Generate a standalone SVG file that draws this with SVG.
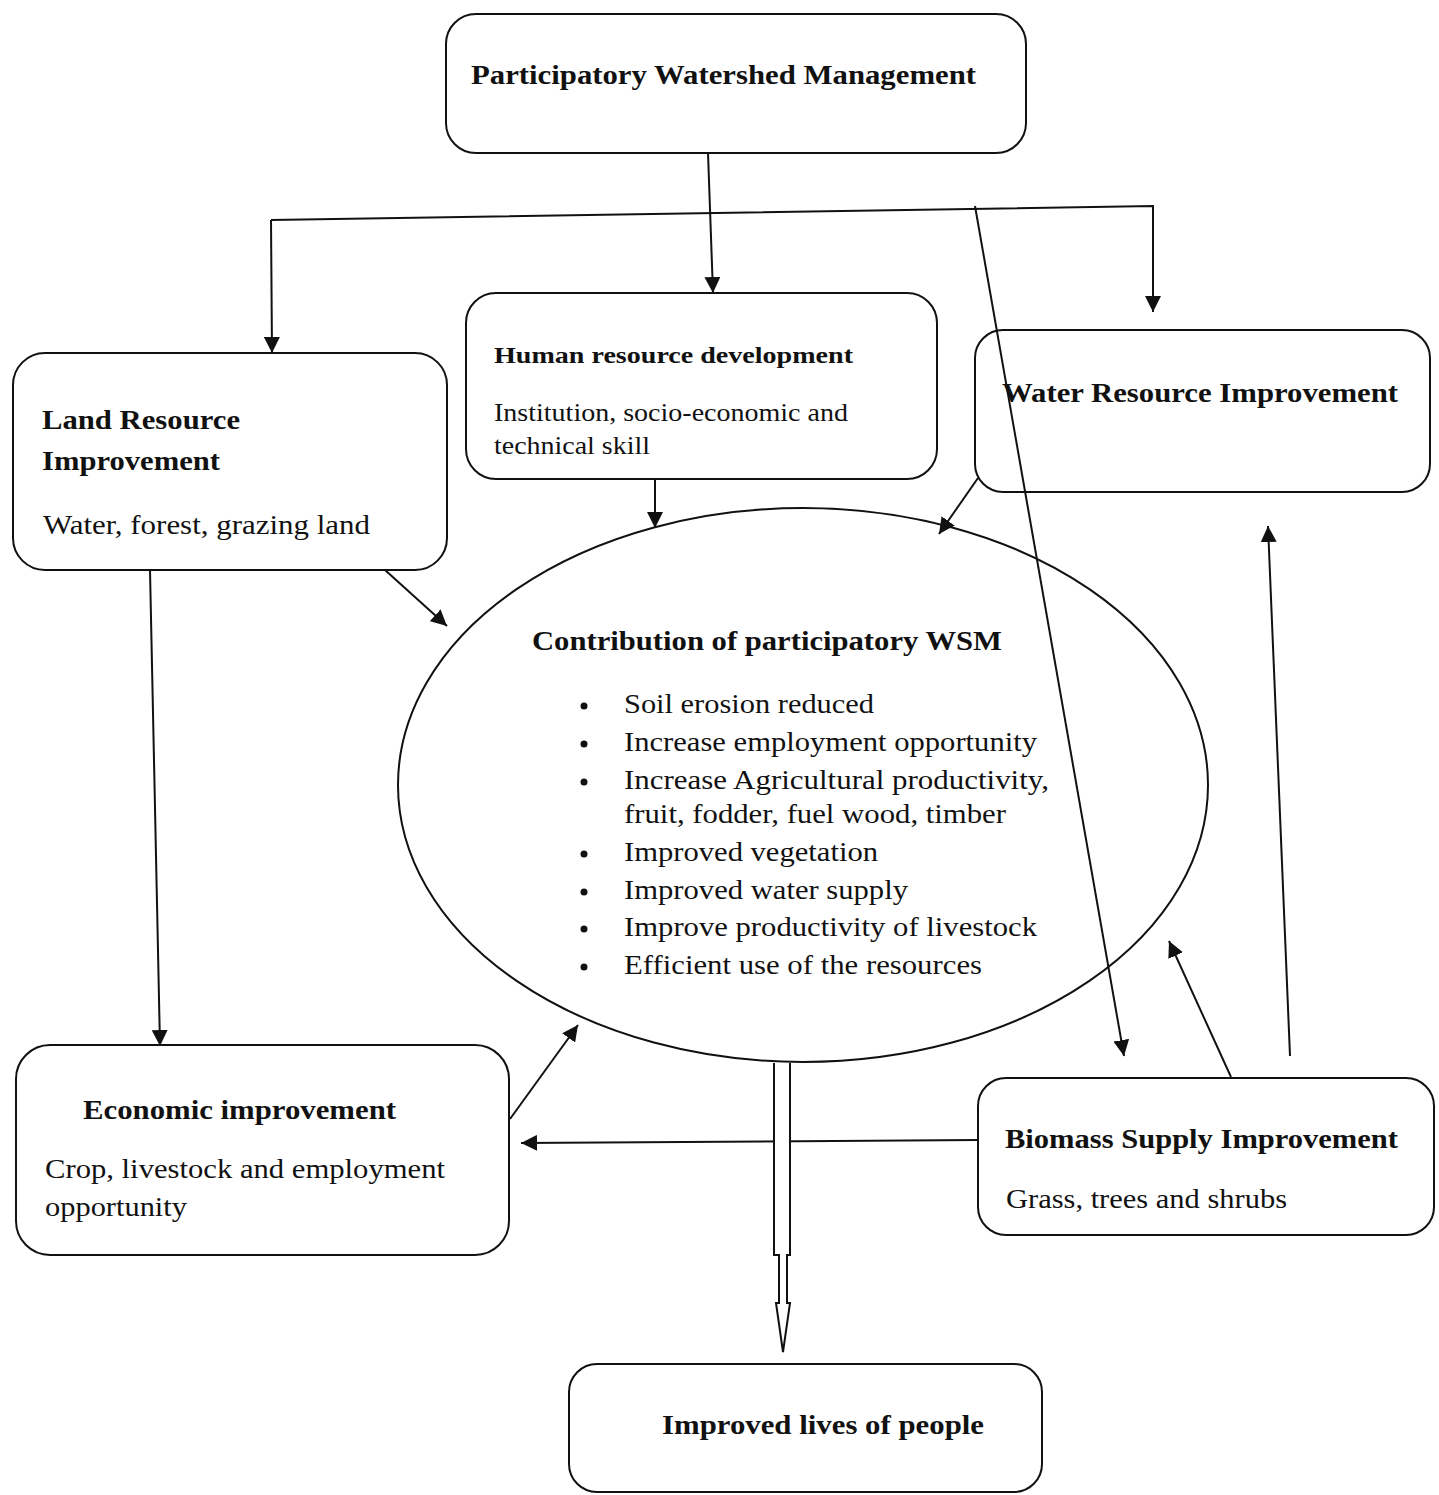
<svg xmlns="http://www.w3.org/2000/svg" width="1439" height="1495" viewBox="0 0 1439 1495">
<style>
.box{fill:#fff;stroke:#111;stroke-width:2}
.ln{fill:none;stroke:#111;stroke-width:2}
.b{font-family:"Liberation Serif","Times New Roman",serif;font-weight:bold;fill:#111}
.r{font-family:"Liberation Serif","Times New Roman",serif;fill:#111}
</style>
<defs>
<marker id="ah" viewBox="0 0 10 10" refX="10" refY="5" markerWidth="16" markerHeight="16" markerUnits="userSpaceOnUse" orient="auto">
<path d="M0,0 L10,5 L0,10 Z" fill="#111"/>
</marker>
</defs>
<rect width="1439" height="1495" fill="#fff"/>

<g id="ellipse-contribution">
<ellipse cx="803" cy="785" rx="405" ry="277" class="box"/>
<text class="b" x="532" y="650" font-size="27" textLength="470" lengthAdjust="spacingAndGlyphs">Contribution of participatory WSM</text>
<g class="r" font-size="28">
<circle cx="584" cy="706" r="3.5" fill="#111"/><text x="624" y="713" textLength="250" lengthAdjust="spacingAndGlyphs">Soil erosion reduced</text>
<circle cx="584" cy="744" r="3.5" fill="#111"/><text x="624" y="751" textLength="413" lengthAdjust="spacingAndGlyphs">Increase employment opportunity</text>
<circle cx="584" cy="782" r="3.5" fill="#111"/><text x="624" y="789" textLength="425" lengthAdjust="spacingAndGlyphs">Increase Agricultural productivity,</text>
<text x="624" y="823" textLength="382" lengthAdjust="spacingAndGlyphs">fruit, fodder, fuel wood, timber</text>
<circle cx="584" cy="854" r="3.5" fill="#111"/><text x="624" y="861" textLength="254" lengthAdjust="spacingAndGlyphs">Improved vegetation</text>
<circle cx="584" cy="892" r="3.5" fill="#111"/><text x="624" y="899" textLength="284" lengthAdjust="spacingAndGlyphs">Improved water supply</text>
<circle cx="584" cy="929" r="3.5" fill="#111"/><text x="624" y="936" textLength="413" lengthAdjust="spacingAndGlyphs">Improve productivity of livestock</text>
<circle cx="584" cy="967" r="3.5" fill="#111"/><text x="624" y="974" textLength="358" lengthAdjust="spacingAndGlyphs">Efficient use of the resources</text>
</g>
</g>

<g id="node-pwm">
<rect x="446" y="14" width="580" height="139" rx="30" class="box"/>
<text class="b" x="471" y="84" font-size="27" textLength="505" lengthAdjust="spacingAndGlyphs">Participatory Watershed Management</text>
</g>

<g id="node-human">
<rect x="466" y="293" width="471" height="186" rx="30" class="box"/>
<text class="b" x="494" y="363" font-size="24" textLength="359" lengthAdjust="spacingAndGlyphs">Human resource development</text>
<text class="r" x="494" y="421" font-size="25" textLength="354" lengthAdjust="spacingAndGlyphs">Institution, socio-economic and</text>
<text class="r" x="494" y="454" font-size="25" textLength="156" lengthAdjust="spacingAndGlyphs">technical skill</text>
</g>

<g id="node-land">
<rect x="13" y="353" width="434" height="217" rx="32" class="box"/>
<text class="b" x="42" y="429" font-size="28" textLength="198" lengthAdjust="spacingAndGlyphs">Land Resource</text>
<text class="b" x="42" y="470" font-size="28" textLength="178" lengthAdjust="spacingAndGlyphs">Improvement</text>
<text class="r" x="43" y="534" font-size="28" textLength="327" lengthAdjust="spacingAndGlyphs">Water, forest, grazing land</text>
</g>

<g id="node-water">
<rect x="975" y="330" width="455" height="162" rx="28" class="box"/>
<text class="b" x="1002" y="402" font-size="27" textLength="396" lengthAdjust="spacingAndGlyphs">Water Resource Improvement</text>
</g>

<g id="node-economic">
<rect x="16" y="1045" width="493" height="210" rx="34" class="box"/>
<text class="b" x="83" y="1119" font-size="27" textLength="313" lengthAdjust="spacingAndGlyphs">Economic improvement</text>
<text class="r" x="45" y="1178" font-size="28" textLength="400" lengthAdjust="spacingAndGlyphs">Crop, livestock and employment</text>
<text class="r" x="45" y="1216" font-size="28" textLength="142" lengthAdjust="spacingAndGlyphs">opportunity</text>
</g>

<g id="node-biomass">
<rect x="978" y="1078" width="456" height="157" rx="28" class="box"/>
<text class="b" x="1005" y="1148" font-size="27" textLength="393" lengthAdjust="spacingAndGlyphs">Biomass Supply Improvement</text>
<text class="r" x="1006" y="1208" font-size="28" textLength="281" lengthAdjust="spacingAndGlyphs">Grass, trees and shrubs</text>
</g>

<g id="node-lives">
<rect x="569" y="1364" width="473" height="128" rx="28" class="box"/>
<text class="b" x="662" y="1434" font-size="27" textLength="322" lengthAdjust="spacingAndGlyphs">Improved lives of people</text>
</g>

<g id="connectors">
<line x1="708" y1="153" x2="713" y2="293" class="ln" marker-end="url(#ah)"/>
<polyline points="271,220 1153,206 1153,312" class="ln" marker-end="url(#ah)"/>
<polyline points="271,220 272,353" class="ln" marker-end="url(#ah)"/>
<line x1="975" y1="206" x2="1124" y2="1056" class="ln" marker-end="url(#ah)"/>
<line x1="655" y1="480" x2="655" y2="528" class="ln" marker-end="url(#ah)"/>
<line x1="978" y1="478" x2="939" y2="534" class="ln" marker-end="url(#ah)"/>
<line x1="385" y1="570" x2="447" y2="626" class="ln" marker-end="url(#ah)"/>
<line x1="150" y1="570" x2="160" y2="1046" class="ln" marker-end="url(#ah)"/>
<line x1="510" y1="1119" x2="578" y2="1025" class="ln" marker-end="url(#ah)"/>
<line x1="978" y1="1140" x2="521" y2="1143" class="ln" marker-end="url(#ah)"/>
<line x1="1231" y1="1077" x2="1169" y2="941" class="ln" marker-end="url(#ah)"/>
<line x1="1290" y1="1056" x2="1268" y2="526" class="ln" marker-end="url(#ah)"/>
<path d="M774,1063 L774,1255 L779,1255 L779,1303 L776,1303 L783,1352 L790,1303 L787,1303 L787,1255 L790,1255 L790,1063" fill="#fff" stroke="#111" stroke-width="2" stroke-linejoin="miter"/>
</g>
</svg>
